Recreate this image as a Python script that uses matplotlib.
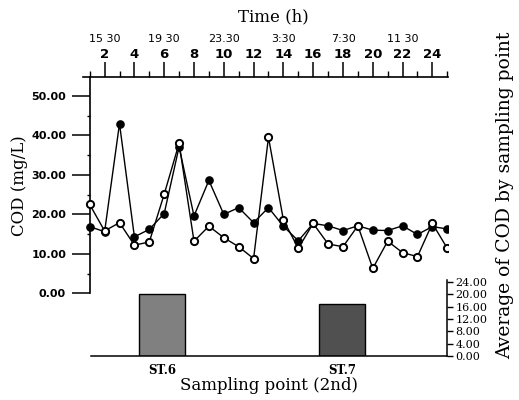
import numpy as np
import matplotlib.pyplot as plt
from matplotlib.ticker import FixedLocator, FuncFormatter

# Hourly COD samples (sample number 1..25) at the two sampling points
sample_no = list(range(1, 26))
cod_st6 = [16.9, 15.6, 43.0, 14.3, 16.2, 20.2, 37.1, 19.6, 28.6, 20.0, 21.7, 17.9, 21.7,
           17.0, 13.3, 17.7, 17.1, 15.9, 17.1, 16.0, 15.9, 17.1, 14.9, 16.9, 16.3]
cod_st7 = [22.5, 15.8, 17.9, 12.2, 13.0, 25.1, 38.0, 13.2, 17.0, 14.1, 11.8, 8.8, 39.5,
           18.6, 11.4, 17.7, 12.5, 11.8, 17.1, 6.3, 13.2, 10.3, 9.3, 17.7, 11.4]

# Clock time shown above every 4th sample
clock_pos = [2, 6, 10, 14, 18, 22]
clock_labels = ['15 30', '19 30', '23.30', '3:30', '7:30', '11 30']

# Average COD per sampling point
stations = ['ST.6', 'ST.7']
avg_cod = [20.3, 16.8]
bar_colors = ['#808080', '#505050']

serif = 'DejaVu Serif'
W, H = 519, 400
fig = plt.figure(figsize=(W / 100, H / 100), dpi=100)

# ---- time series panel ----
ax = fig.add_axes([83 / W, 1 - 293.3 / H, 365 / W, (293.3 - 77) / H])
ax.plot(sample_no, cod_st6, color='black', lw=1.0, marker='o', ms=5.2,
        mfc='black', mec='black', zorder=3)
ax.plot(sample_no, cod_st7, color='black', lw=1.0, marker='o', ms=5.2,
        mfc='white', mec='black', mew=1.4, zorder=4)

ax.set_xlim(0.55, 25.05)
ax.set_ylim(0, 54.8)
for s in ['right', 'bottom']:
    ax.spines[s].set_visible(False)
ax.spines['left'].set_position(('data', 1))
ax.spines['left'].set_linewidth(1.2)
ax.spines['top'].set_linewidth(1.2)

ax.xaxis.tick_top()
ax.xaxis.set_major_locator(FixedLocator(range(2, 25, 2)))
ax.xaxis.set_minor_locator(FixedLocator(range(1, 26, 2)))
ax.tick_params(axis='x', which='major', length=11, width=1.1, pad=0.5,
               labelsize=9.5)
ax.tick_params(axis='x', which='minor', length=4, width=1.0)
for lab in ax.get_xticklabels():
    lab.set_fontweight('bold')

ax.yaxis.set_major_locator(FixedLocator(range(0, 51, 10)))
ax.yaxis.set_minor_locator(FixedLocator(range(5, 50, 10)))
ax.yaxis.set_major_formatter(FuncFormatter(lambda v, p: f'{v:.2f}'))
ax.tick_params(axis='y', which='major', length=13, width=1.1, pad=4, labelsize=8)
ax.tick_params(axis='y', which='minor', length=2.5, width=1.0)
for lab in ax.get_yticklabels():
    lab.set_fontweight('bold')

for x, t in zip(clock_pos, clock_labels):
    ax.annotate(t, xy=(x, 1), xycoords=('data', 'axes fraction'),
                xytext=(0, 27), textcoords='offset points',
                ha='center', va='center', fontsize=8)

fig.text(0.526, 1 - 17 / H, 'Time (h)', family=serif, fontsize=12,
         ha='center', va='center')
fig.text(0.037, 1 - 186 / H, 'COD (mg/L)', family=serif, fontsize=12,
         rotation=90, ha='center', va='center')
fig.text(0.973, 1 - 195 / H, 'Average of COD by sampling point', family=serif,
         fontsize=13.5, rotation=90, ha='center', va='center')

# ---- average bar panel ----
bx = fig.add_axes([90.7 / W, 1 - 356 / H, (447 - 90.7) / W, (356 - 280) / H])
bx.patch.set_alpha(0)
bx.bar(range(len(stations)), avg_cod, width=0.255, color=bar_colors,
       edgecolor='black', linewidth=1.0)
bx.set_xlim(-0.398, 1.585)
bx.set_ylim(0, 24.7)
bx.spines['top'].set_visible(False)
bx.spines['left'].set_visible(False)
bx.spines['right'].set_linewidth(1.1)
bx.spines['bottom'].set_linewidth(1.1)
bx.yaxis.tick_right()
bx.set_yticks(range(0, 25, 4))
bx.yaxis.set_major_formatter(FuncFormatter(lambda v, p: f'{v:.2f}'))
bx.tick_params(axis='y', length=4, width=1.0, pad=2, labelsize=8)
for lab in bx.get_yticklabels():
    lab.set_family(serif)
bx.set_xticks(range(len(stations)))
bx.set_xticklabels(stations, family=serif, fontweight='bold', fontsize=8.5)
bx.tick_params(axis='x', length=0, pad=6)
bx.set_xlabel('Sampling point (2nd)', family=serif, fontsize=12, labelpad=0)

fig.savefig('out.png', dpi=100)
